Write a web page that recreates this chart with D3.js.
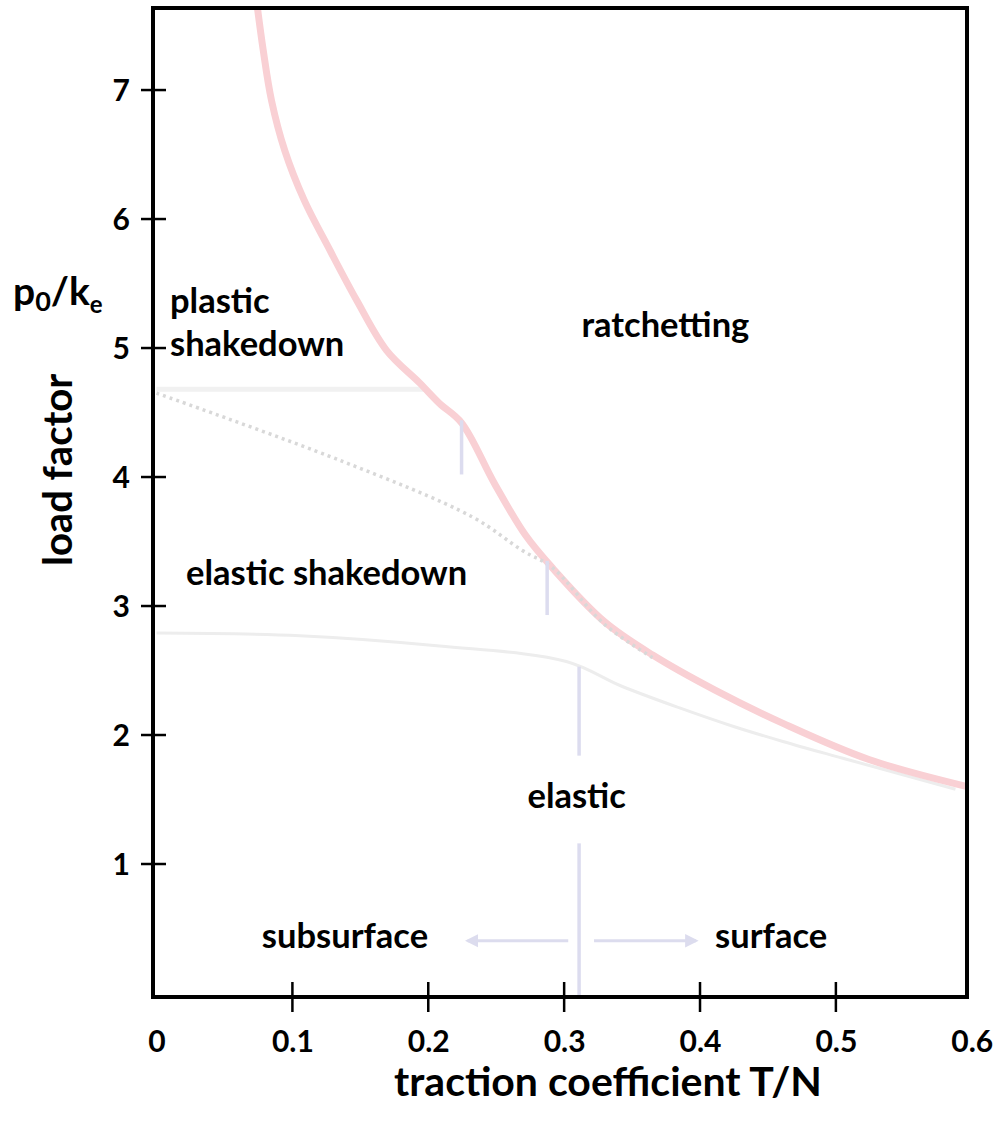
<!DOCTYPE html>
<html>
<head>
<meta charset="utf-8">
<script src="https://cdn.jsdelivr.net/npm/d3@7"></script>
<style>
  body { margin: 0; background: white; }
  text { font-family: Lato, "Open Sans", sans-serif; font-weight: bold; fill: black; }
</style>
</head>
<body>
<div id="chart"></div>
<script>
// values
let xTickLabels = [0, 0.1, 0.2, 0.3, 0.4, 0.5, 0.6]
let xTickMarks = [0.1, 0.2, 0.3, 0.4, 0.5]
let yTicks = [1, 2, 3, 4, 5, 6, 7]

// ratchetting boundary (thick pink)
let ratchetX = [0.0735, 0.0785, 0.0846, 0.0944, 0.1085, 0.1275, 0.1473, 0.1694, 0.1936, 0.2083, 0.2245, 0.2487, 0.2715, 0.2918, 0.3295, 0.3652, 0.4107, 0.4611, 0.5243, 0.5965]
let ratchetY = [7.70, 7.31, 6.92, 6.53, 6.15, 5.76, 5.37, 4.98, 4.73, 4.57, 4.42, 3.95, 3.55, 3.29, 2.88, 2.62, 2.35, 2.09, 1.81, 1.60]

// dotted boundary below plastic shakedown
let dottedX = [0, 0.1348, 0.2325, 0.2693, 0.291, 0.3295, 0.365]
let dottedY = [4.65, 4.13, 3.69, 3.43, 3.30, 2.86, 2.60]

// plastic shakedown limit (faint horizontal)
let plasticX = [0, 0.199]
let plasticY = [4.68, 4.68]

// elastic limit (faint)
let elasticX = [0, 0.1054, 0.2083, 0.3016, 0.342, 0.385, 0.4236, 0.461, 0.5051, 0.588]
let elasticY = [2.79, 2.77, 2.69, 2.57, 2.38, 2.21, 2.07, 1.95, 1.82, 1.58]

// small vertical markers: x, y from, y to
let markerX = [0.2245, 0.2875, 0.311, 0.311]
let markerY0 = [4.44, 3.35, 2.53, 1.16]
let markerY1 = [4.02, 2.93, 1.84, -0.02]

// arrows at the bottom: from, to
let arrowFrom = [0.303, 0.322]
let arrowTo = [0.229, 0.397]
let arrowLevel = 0.405

let regionLabels = ['plastic', 'shakedown', 'ratchetting', 'elastic shakedown', 'elastic', 'subsurface', 'surface']
let regionX = [0.0099, 0.0099, 0.3127, 0.0217, 0.273, 0.0775, 0.4111]
let regionY = [5.27, 4.94, 5.085, 3.163, 1.434, 0.349, 0.349]

let width = 994
let height = 1127
let plot = { left: 153, right: 967, top: 8, bottom: 997 }

let svg = d3.select('#chart').append('svg')
  .attr('width', width)
  .attr('height', height)

let x = d3.scaleLinear().domain([-0.0026, 0.5965]).range([plot.left, plot.right])
let y = d3.scaleLinear().domain([-0.031, 7.636]).range([plot.bottom, plot.top])

svg.append('clipPath').attr('id', 'clip')
  .append('rect')
  .attr('x', plot.left).attr('y', plot.top)
  .attr('width', plot.right - plot.left).attr('height', plot.bottom - plot.top)

let zipXY = (xs, ys) => xs.map((v, i) => [v, ys[i]])

let line = d3.line()
  .x(d => x(d[0]))
  .y(d => y(d[1]))
  .curve(d3.curveCatmullRom.alpha(0.5))

let curves = svg.append('g').attr('clip-path', 'url(#clip)')

curves.append('path')
  .attr('d', line(zipXY(plasticX, plasticY)))
  .attr('fill', 'none')
  .attr('stroke', '#f1f1f1')
  .attr('stroke-width', 5)

curves.append('path')
  .attr('d', line(zipXY(elasticX, elasticY)))
  .attr('fill', 'none')
  .attr('stroke', '#ededed')
  .attr('stroke-width', 3)

curves.append('path')
  .attr('d', line(zipXY(ratchetX, ratchetY)))
  .attr('fill', 'none')
  .attr('stroke', '#f9d0d4')
  .attr('stroke-width', 7)

curves.append('path')
  .attr('d', line(zipXY(dottedX, dottedY)))
  .attr('fill', 'none')
  .attr('stroke', '#d8d8d8')
  .attr('stroke-width', 3.5)
  .attr('stroke-dasharray', '3,4')

curves.selectAll('.marker')
  .data(markerX)
  .join('line')
  .attr('class', 'marker')
  .attr('x1', d => x(d))
  .attr('x2', d => x(d))
  .attr('y1', (d, i) => y(markerY0[i]))
  .attr('y2', (d, i) => y(markerY1[i]))
  .attr('stroke', '#dcdcef')
  .attr('stroke-width', 3.5)

svg.append('defs').append('marker')
  .attr('id', 'head')
  .attr('viewBox', '0 0 10 10')
  .attr('refX', 8).attr('refY', 5)
  .attr('markerWidth', 4.5).attr('markerHeight', 4.5)
  .attr('orient', 'auto')
  .append('path')
  .attr('d', 'M0,0 L10,5 L0,10 z')
  .attr('fill', '#dcdcee')

svg.selectAll('.arrow')
  .data(arrowFrom)
  .join('line')
  .attr('class', 'arrow')
  .attr('x1', d => x(d))
  .attr('x2', (d, i) => x(arrowTo[i]))
  .attr('y1', y(arrowLevel))
  .attr('y2', y(arrowLevel))
  .attr('stroke', '#dcdcee')
  .attr('stroke-width', 3)
  .attr('marker-end', 'url(#head)')

// frame
svg.append('rect')
  .attr('x', plot.left).attr('y', plot.top)
  .attr('width', plot.right - plot.left).attr('height', plot.bottom - plot.top)
  .attr('fill', 'none')
  .attr('stroke', 'black')
  .attr('stroke-width', 4)

// ticks crossing the frame
svg.selectAll('.xtick')
  .data(xTickMarks)
  .join('line')
  .attr('x1', d => x(d)).attr('x2', d => x(d))
  .attr('y1', plot.bottom - 15).attr('y2', plot.bottom + 15)
  .attr('stroke', 'black')
  .attr('stroke-width', 2.5)

svg.selectAll('.ytick')
  .data(yTicks)
  .join('line')
  .attr('x1', plot.left - 12).attr('x2', plot.left + 13)
  .attr('y1', d => y(d)).attr('y2', d => y(d))
  .attr('stroke', 'black')
  .attr('stroke-width', 2.5)

let xAxis = svg.append('g')
  .attr('transform', `translate(0,${plot.bottom})`)
  .call(d3.axisBottom(x).tickValues(xTickLabels).tickFormat(d => String(d)).tickSize(0))
xAxis.select('.domain').remove()
xAxis.selectAll('text')
  .attr('y', 55).attr('dy', 0)
  .style('font-size', '30px')
  .style('font-family', 'Lato')

let yAxis = svg.append('g')
  .attr('transform', `translate(${plot.left},0)`)
  .call(d3.axisLeft(y).tickValues(yTicks).tickSize(0))
yAxis.select('.domain').remove()
yAxis.selectAll('text')
  .attr('x', -23).attr('dy', '0.36em')
  .style('font-size', '30px')
  .style('font-family', 'Lato')

svg.selectAll('.region')
  .data(regionLabels)
  .join('text')
  .attr('class', 'region')
  .attr('x', (d, i) => x(regionX[i]))
  .attr('y', (d, i) => y(regionY[i]))
  .style('font-size', '34.5px')
  .text(d => d)

// axis titles
svg.append('text')
  .attr('x', 608)
  .attr('y', 1096)
  .attr('text-anchor', 'middle')
  .style('font-size', '41px')
  .text('traction coefficient T/N')

svg.append('text')
  .attr('transform', 'translate(72,470) rotate(-90)')
  .attr('text-anchor', 'middle')
  .style('font-size', '40px')
  .text('load factor')

let pk = svg.append('text')
  .attr('x', 13)
  .attr('y', 305)
  .style('font-size', '39px')
pk.append('tspan').text('p')
pk.append('tspan').attr('dy', 6).style('font-size', '27px').text('0')
pk.append('tspan').attr('dy', -6).text('/k')
pk.append('tspan').attr('dy', 8).style('font-size', '24px').text('e')
</script>
</body>
</html>
